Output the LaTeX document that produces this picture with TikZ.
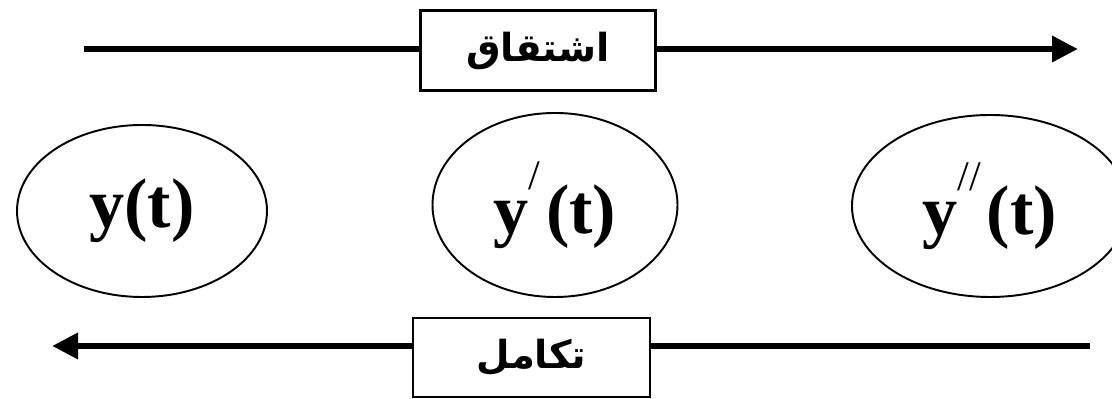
\documentclass[tikz,border=0pt]{standalone}
\usepackage{fontspec}
\setmainfont{Liberation Serif}
\newfontfamily\arabicfont[Script=Arabic]{DejaVu Sans}
\TeXXeTstate=1
\usetikzlibrary{shapes.geometric, arrows.meta, positioning}
\tikzset{
  every node/.style = {transform shape},
  term/.style       = {ellipse, draw, line width=1.1pt, inner sep=0pt,
                       font=\fontsize{40}{40}\selectfont\bfseries},
  labelbox/.style   = {rectangle, draw, line width=1.6pt, fill=white,
                       minimum width=4.7cm, minimum height=1.6cm,
                       font=\arabicfont\bfseries\fontsize{22}{22}\selectfont},
  arrow/.style      = {line width=3.6pt,
                       -{Triangle[length=0.52cm, width=0.5cm]}}
}
\newcommand{\slashmark}[1]{\raisebox{0.62em}{\fontsize{24}{24}\selectfont\mdseries #1}\hspace{0.08em}}

\begin{document}
\begin{tikzpicture}
  \useasboundingbox (0,0) rectangle (22.24,7.98);
  \begin{scope}
    \clip (0,0) rectangle (22.24,7.98);
    % the three functions
    \node[term, minimum width=5cm, minimum height=3.44cm] (y0) at (2.84,3.76) {y(t)};
    \node[term, minimum width=4.9cm, minimum height=3.68cm] (y1) at (11.10,3.88) {y\slashmark{/}(t)};
    \node[term, minimum width=5.52cm, minimum height=3.64cm] (y2) at (19.80,3.86) {y\slashmark{//}(t)};
    % derivative, left to right
    \coordinate (dstart) at (1.68,7.00);
    \coordinate (dend)   at (21.56,7.00);
    \node[labelbox] (deriv) at (10.76,6.97) {\beginR اشتقاق\endR};
    \draw[line width=3.6pt] (dstart) -- (dstart -| deriv.west);
    \draw[arrow] (dend -| deriv.east) -- (dend);
    % integral, right to left
    \coordinate (istart) at (21.80,1.06);
    \coordinate (iend)   at (1.04,1.06);
    \node[labelbox, minimum width=4.74cm, minimum height=1.58cm] (integ) at (10.63,0.83) {\beginR تكامل\endR};
    \draw[line width=3.6pt] (istart) -- (istart -| integ.east);
    \draw[arrow] (iend -| integ.west) -- (iend);
  \end{scope}
\end{tikzpicture}
\end{document}
